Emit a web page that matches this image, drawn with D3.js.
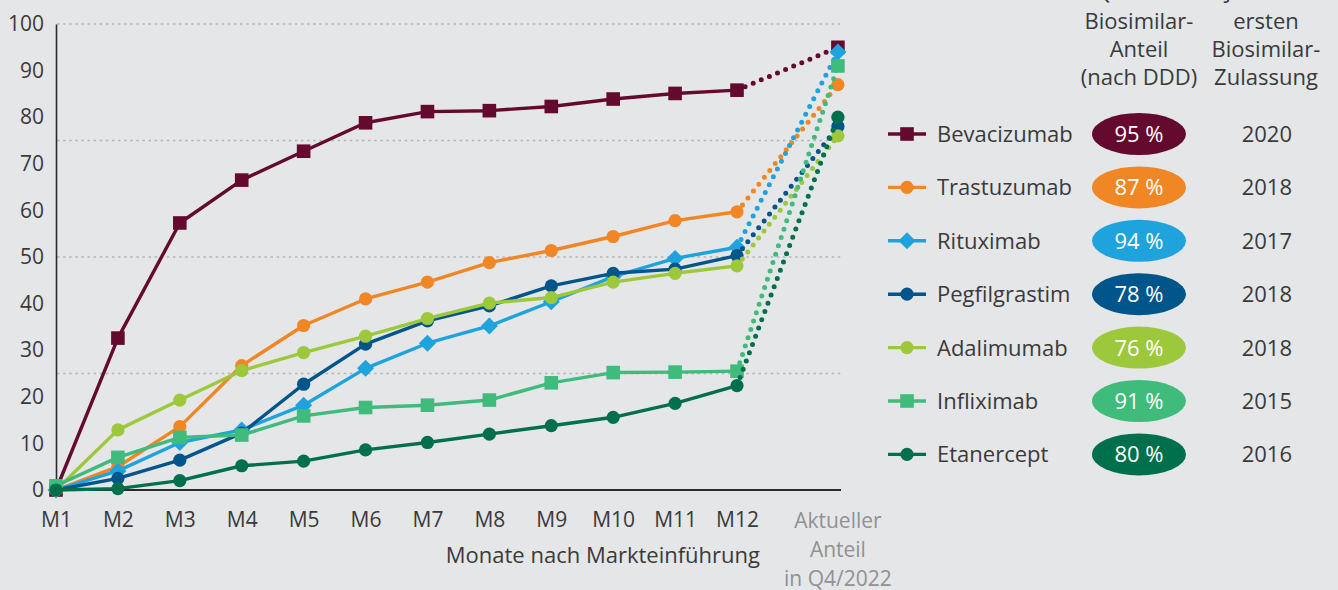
<!DOCTYPE html>
<html>
<head>
<meta charset="utf-8">
<script src="https://cdn.jsdelivr.net/npm/d3@7"></script>
<style>
  html, body { margin: 0; padding: 0; background: #e5e6e8; }
  svg { display: block; font-family: "Open Sans", sans-serif; }
</style>
</head>
<body>
<div id="chart"></div>
<script>
// categories + values
const months = ['M1', 'M2', 'M3', 'M4', 'M5', 'M6', 'M7', 'M8', 'M9', 'M10', 'M11', 'M12'];
const currentLabel = ['Aktueller', 'Anteil', 'in Q4/2022'];
const yTicks = [0, 10, 20, 30, 40, 50, 60, 70, 80, 90, 100];
const gridValues = [25, 50, 75, 100];

const names = ['Bevacizumab', 'Trastuzumab', 'Rituximab', 'Pegfilgrastim', 'Adalimumab', 'Infliximab', 'Etanercept'];
const colors = ['#650a2f', '#f18625', '#1fa3dd', '#00558b', '#9dc83b', '#3fbb7c', '#006f4b'];
const symbols = ['square', 'circle', 'diamond', 'circle', 'circle', 'square', 'circle'];

const bevacizumab = [0, 32.6, 57.3, 66.5, 72.7, 78.8, 81.2, 81.4, 82.3, 83.9, 85.1, 85.8];
const trastuzumab = [0, 5.0, 13.6, 26.7, 35.3, 41.0, 44.6, 48.8, 51.4, 54.4, 57.8, 59.7];
const rituximab = [0, 4.1, 10.2, 12.9, 18.2, 26.1, 31.5, 35.2, 40.4, 45.8, 49.7, 52.1];
const pegfilgrastim = [0, 2.5, 6.4, 12.2, 22.7, 31.3, 36.3, 39.5, 43.8, 46.5, 47.4, 50.3];
const adalimumab = [0, 12.9, 19.3, 25.6, 29.5, 33.0, 36.8, 40.1, 41.3, 44.6, 46.5, 48.1];
const infliximab = [0.9, 7.0, 11.3, 11.8, 15.9, 17.7, 18.2, 19.3, 23.0, 25.2, 25.3, 25.5];
const etanercept = [0, 0.3, 2.0, 5.2, 6.2, 8.6, 10.2, 12.0, 13.8, 15.6, 18.6, 22.4];

const currentShare = [95, 87, 94, 78, 76, 91, 80];
const approvalYear = [2020, 2018, 2017, 2018, 2018, 2015, 2016];

const headShare = ['Q4/2022', 'Biosimilar-', 'Anteil', '(nach DDD)'];
const headYear = ['Jahr der', 'ersten', 'Biosimilar-', 'Zulassung'];
const axisTitle = 'Monate nach Markteinführung';

const seriesValues = [bevacizumab, trastuzumab, rituximab, pegfilgrastim, adalimumab, infliximab, etanercept];

const width = 1338, height = 590;
const textColor = '#3a3a3a';

let svg = d3.select('#chart').append('svg')
  .attr("width", width)
  .attr("height", height)
  .attr("viewBox", `0 0 ${width} ${height}`);

// the "current share" column sits a bit further right than a normal month step
const currentGap = 1.63;
let x = d3.scaleLinear().domain([0, months.length - 1]).range([56, 737]);
const xCurrent = x(months.length - 1 + currentGap);
let y = d3.scaleLinear().domain([0, 100]).range([490, 24]);

// grid
svg.append("g").selectAll("line")
  .data(gridValues)
  .enter().append("line")
    .attr("x1", 57).attr("x2", 841)
    .attr("y1", d => y(d)).attr("y2", d => y(d))
    .attr("stroke", "#b4b5b7")
    .attr("stroke-width", 1.5)
    .attr("stroke-dasharray", "2.5 3.6");

// y axis
let yAxis = svg.append("g")
  .attr("transform", `translate(${x(0)},0)`)
  .call(d3.axisLeft(y).tickValues(yTicks).tickSize(0).tickPadding(12));
yAxis.select(".domain").attr("stroke", "#2b2b2b").attr("stroke-width", 1.6);
yAxis.selectAll("text")
  .attr("fill", textColor)
  .style("font-size", "21px")
  .style("font-family", "'Open Sans', sans-serif");

// x axis
let xAxis = svg.append("g")
  .attr("transform", `translate(0,${y(0)})`)
  .call(d3.axisBottom(x).tickValues(d3.range(months.length)).tickFormat(i => months[i]).tickSize(0).tickPadding(22));
xAxis.select(".domain")
  .attr("d", `M${x(0)},0H841`)
  .attr("stroke", "#2b2b2b").attr("stroke-width", 2);
xAxis.selectAll("text")
  .attr("fill", textColor)
  .style("font-size", "21px")
  .style("font-family", "'Open Sans', sans-serif");

svg.append("text")
  .attr("x", 760).attr("y", 563)
  .attr("text-anchor", "end")
  .attr("fill", textColor)
  .style("font-size", "22px")
  .text(axisTitle);

svg.append("g").selectAll("text")
  .data(currentLabel)
  .enter().append("text")
    .attr("x", xCurrent)
    .attr("y", (d, i) => 528 + i * 29)
    .attr("text-anchor", "middle")
    .attr("fill", "#909193")
    .style("font-size", "21px")
    .text(d => d);

const drawSymbol = (g, type, cx, cy, color) => {
  if (type === 'square') {
    g.append("rect")
      .attr("x", cx - 6.8).attr("y", cy - 6.8)
      .attr("width", 13.6).attr("height", 13.6)
      .attr("fill", color);
  } else if (type === 'diamond') {
    g.append("path")
      .attr("d", `M${cx},${cy - 8.5}L${cx + 8.5},${cy}L${cx},${cy + 8.5}L${cx - 8.5},${cy}Z`)
      .attr("fill", color);
  } else {
    g.append("circle")
      .attr("cx", cx).attr("cy", cy).attr("r", 6.6)
      .attr("fill", color);
  }
}

let line = d3.line()
  .x((d, i) => x(i))
  .y(d => y(d));

seriesValues.forEach((vals, s) => {
  let g = svg.append("g");
  let last = vals.length - 1;

  // dotted jump to the current share
  g.append("line")
    .attr("x1", x(last)).attr("y1", y(vals[last]))
    .attr("x2", xCurrent).attr("y2", y(currentShare[s]))
    .attr("stroke", colors[s])
    .attr("stroke-width", 5)
    .attr("stroke-linecap", "round")
    .attr("stroke-dasharray", "0 8.8");

  g.append("path")
    .attr("d", line(vals))
    .attr("fill", "none")
    .attr("stroke", colors[s])
    .attr("stroke-width", 3.4)
    .attr("stroke-linejoin", "round");

  vals.forEach((v, i) => drawSymbol(g, symbols[s], x(i), y(v), colors[s]));
  drawSymbol(g, symbols[s], xCurrent, y(currentShare[s]), colors[s]);
});

// legend
let legend = svg.append("g");
names.forEach((name, i) => {
  let cy = 134 + i * 53.4;
  let row = legend.append("g");

  row.append("line")
    .attr("x1", 888).attr("x2", 926)
    .attr("y1", cy).attr("y2", cy)
    .attr("stroke", colors[i]).attr("stroke-width", 3.4);
  drawSymbol(row, symbols[i], 907, cy, colors[i]);

  row.append("text")
    .attr("x", 937).attr("y", cy)
    .attr("dy", "0.36em")
    .attr("fill", textColor)
    .style("font-size", "22px")
    .text(name);

  row.append("ellipse")
    .attr("cx", 1139).attr("cy", cy)
    .attr("rx", 47).attr("ry", 21)
    .attr("fill", colors[i]);

  row.append("text")
    .attr("x", 1139).attr("y", cy)
    .attr("dy", "0.36em")
    .attr("text-anchor", "middle")
    .attr("fill", "#fff")
    .style("font-size", "22px")
    .text(`${currentShare[i]} %`);

  row.append("text")
    .attr("x", 1292).attr("y", cy)
    .attr("dy", "0.36em")
    .attr("text-anchor", "end")
    .attr("fill", textColor)
    .style("font-size", "22px")
    .text(approvalYear[i]);
});

// column heads, top line sits above the page edge (only descenders show)
const drawHead = (lines, cx) => {
  svg.append("g").selectAll("text")
    .data(lines)
    .enter().append("text")
      .attr("x", cx)
      .attr("y", (d, i) => i === 0 ? -1 : 1 + i * 28)
      .attr("text-anchor", "middle")
      .attr("fill", textColor)
      .style("font-size", "22px")
      .text(d => d);
}
drawHead(headShare, 1139);
drawHead(headYear, 1266);
</script>
</body>
</html>
